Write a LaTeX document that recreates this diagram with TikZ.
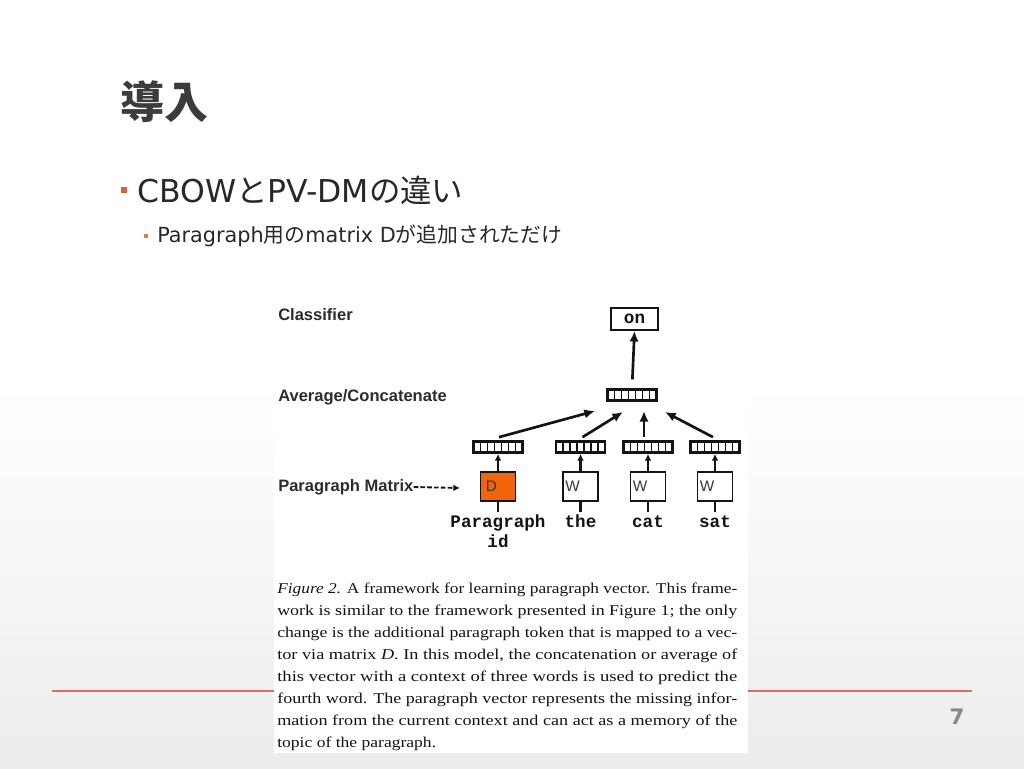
\documentclass[tikz,border=0pt]{standalone}
\usepackage{fontspec}
\usepackage{graphicx}
\setmainfont{Liberation Serif}
\newfontfamily\jp{Noto Sans CJK JP}
\newfontfamily\dv{DejaVu Sans}
\newfontfamily\arialf{Liberation Sans}
\newfontfamily\courf{Liberation Mono}
\usetikzlibrary{arrows.meta,calc}
\definecolor{titlegray}{RGB}{60,60,60}
\definecolor{bodytext}{RGB}{40,40,40}
\definecolor{accent}{RGB}{214,96,66}
\definecolor{accentlight}{RGB}{226,120,96}
\definecolor{rulered}{RGB}{214,112,92}
\definecolor{dorange}{RGB}{240,100,12}
\definecolor{pagegray}{RGB}{136,136,136}
\definecolor{bggray}{RGB}{236,236,236}
\definecolor{ink}{RGB}{20,20,20}
\newcommand\capline[1]{\resizebox{345pt}{\height}{#1}}
\tikzset{
  lab/.style={anchor=west, inner sep=0, font=\arialf\bfseries\fontsize{12.4}{15}\selectfont, text=ink!90},
  mono/.style={inner sep=0, font=\courf\bfseries\fontsize{13.2}{15}\selectfont, text=ink},
  vec/.style={draw=ink, line width=1.8pt, fill=white, minimum width=36.75pt, minimum height=8.5pt, inner sep=0,
    path picture={\foreach \i in {1,...,6}{\draw[ink, line width=1.3pt]
      ($(path picture bounding box.south west)!\i/7!(path picture bounding box.south east)$) --
      ($(path picture bounding box.north west)!\i/7!(path picture bounding box.north east)$);}}},
  wbox/.style={draw=ink, line width=1.2pt, fill=white, minimum width=26.25pt, minimum height=21.75pt, inner sep=0},
  letter/.style={anchor=west, inner sep=0, font=\arialf\fontsize{11.5}{13}\selectfont, text=ink!85},
  bigarr/.style={draw=ink, line width=2pt, -{Latex[length=8pt,width=7pt]}},
  smallarr/.style={draw=ink, line width=1.6pt, -{Latex[length=5pt,width=5pt]}},
  stem/.style={draw=ink, line width=2pt},
  capt/.style={anchor=base west, inner sep=0, font=\fontsize{11.25}{13}\selectfont, text=ink},
}
\begin{document}
\begin{tikzpicture}[x=0.75pt,y=-0.75pt]
\useasboundingbox (0,0) rectangle (1024,768);
\fill[white] (0,0) rectangle (1024,768);
\shade[top color=white, bottom color=bggray] (0,384) rectangle (1024,768);

% title and bullets
\node[anchor=west, inner sep=0, font=\jp\bfseries\fontsize{33}{36}\selectfont, text=titlegray] (title) at (120,102) {導入};
\node[fill=accent, minimum size=4.5pt, inner sep=0] (b1) at (124,190) {};
\node[anchor=west, inner sep=0, font=\fontsize{23.6}{26}\selectfont, text=bodytext] (l1) at (137,190) {\dv CBOW\jp と\dv PV-DM\jp の違い};
\node[fill=accentlight, minimum size=3.6pt, inner sep=0] (b2) at (146,236) {};
\node[anchor=west, inner sep=0, font=\fontsize{15.6}{18}\selectfont, text=bodytext] (l2) at (157,236) {\dv Paragraph\jp 用の\dv matrix D\jp が追加されただけ};

% rule and page number
\draw[rulered, line width=1.5pt] (52,691) -- (972,691);
\node[font=\dv\bfseries\fontsize{16}{18}\selectfont, text=pagegray, inner sep=0] (pg) at (957,717) {7};

% figure background
\fill[white] (274,296) rectangle (748,753);

% left labels
\node[lab] (cls) at (278,315) {Classifier};
\node[lab] (avg) at (278,397) {Average/Concatenate};
\node[lab] (pm) at (278,487) {Paragraph Matrix};
\coordinate (pmtip) at (460,488);
\draw[ink, line width=1.4pt, dash pattern=on 3.5pt off 1.6pt, -{Latex[length=5pt,width=5pt]}] (pm.east) -- (pmtip);

% classifier output
\node[draw=ink, line width=1.3pt, fill=white, minimum width=35.25pt, minimum height=16.5pt, inner sep=0, font=\courf\bfseries\fontsize{13.2}{15}\selectfont, text=ink] (on) at (634.5,319) {on};

% vectors
\node[vec] (vtop) at (632,395) {};
\node[vec] (vp) at (498,447) {};
\node[vec] (v1) at (580.5,447) {};
\node[vec] (v2) at (648,447) {};
\node[vec] (v3) at (715,447) {};

\draw[bigarr, shorten <=6.5pt] (vtop.north) -- (on.south);

\coordinate (t1) at (595,411);
\coordinate (t2) at (623,412);
\coordinate (t3) at (644,411);
\coordinate (t4) at (665,412);
\draw[bigarr] ($(vp.north)+(1,-3)$) -- (t1);
\draw[bigarr] ($(v1.north)+(2,-3)$) -- (t2);
\draw[bigarr] ($(v2.north)+(-4,-3)$) -- (t3);
\draw[bigarr] ($(v3.north)+(-2,-3)$) -- (t4);

% boxes
\node[wbox, fill=dorange] (bD) at (498,486.5) {};
\node[wbox] (bW1) at (580.5,486.5) {};
\node[wbox] (bW2) at (648,486.5) {};
\node[wbox] (bW3) at (715,486.5) {};
\node[letter] (lD) at ($(bD.west)+(6,0)$) {D};
\node[letter] (lW1) at ($(bW1.west)+(3,0)$) {W};
\node[letter] (lW2) at ($(bW2.west)+(3,0)$) {W};
\node[letter] (lW3) at ($(bW3.west)+(3,0)$) {W};

\draw[smallarr] (bD.north) -- (vp.south);
\draw[smallarr] (bW1.north) -- (v1.south);
\draw[smallarr] (bW2.north) -- (v2.south);
\draw[smallarr] (bW3.north) -- (v3.south);

% inputs
\node[mono, anchor=base] (ip) at (498,527) {Paragraph};
\node[mono, anchor=base] (iid) at (498,547) {id};
\node[mono, anchor=base] (ithe) at (580.5,527) {the};
\node[mono, anchor=base] (icat) at (648,527) {cat};
\node[mono, anchor=base] (isat) at (715,527) {sat};
\coordinate (sD) at (498,512);
\coordinate (s1) at (580.5,512);
\coordinate (s2) at (648,512);
\coordinate (s3) at (715,512);
\draw[stem] (bD.south) -- (sD);
\draw[stem] (bW1.south) -- (s1);
\draw[stem] (bW2.south) -- (s2);
\draw[stem] (bW3.south) -- (s3);

% caption
\node[capt] (c1) at (277,593) {\capline{\textit{Figure 2.} A framework for learning paragraph vector. This frame-}};
\node[capt] (c2) at (277,615) {\capline{work is similar to the framework presented in Figure 1; the only}};
\node[capt] (c3) at (277,637) {\capline{change is the additional paragraph token that is mapped to a vec-}};
\node[capt] (c4) at (277,659) {\capline{tor via matrix \textit{D}. In this model, the concatenation or average of}};
\node[capt] (c5) at (277,681) {\capline{this vector with a context of three words is used to predict the}};
\node[capt] (c6) at (277,703) {\capline{fourth word. The paragraph vector represents the missing infor-}};
\node[capt] (c7) at (277,725) {\capline{mation from the current context and can act as a memory of the}};
\node[capt] (c8) at (277,747) {\scalebox{1.17}[1]{topic of the paragraph.}};
\end{tikzpicture}
\end{document}
